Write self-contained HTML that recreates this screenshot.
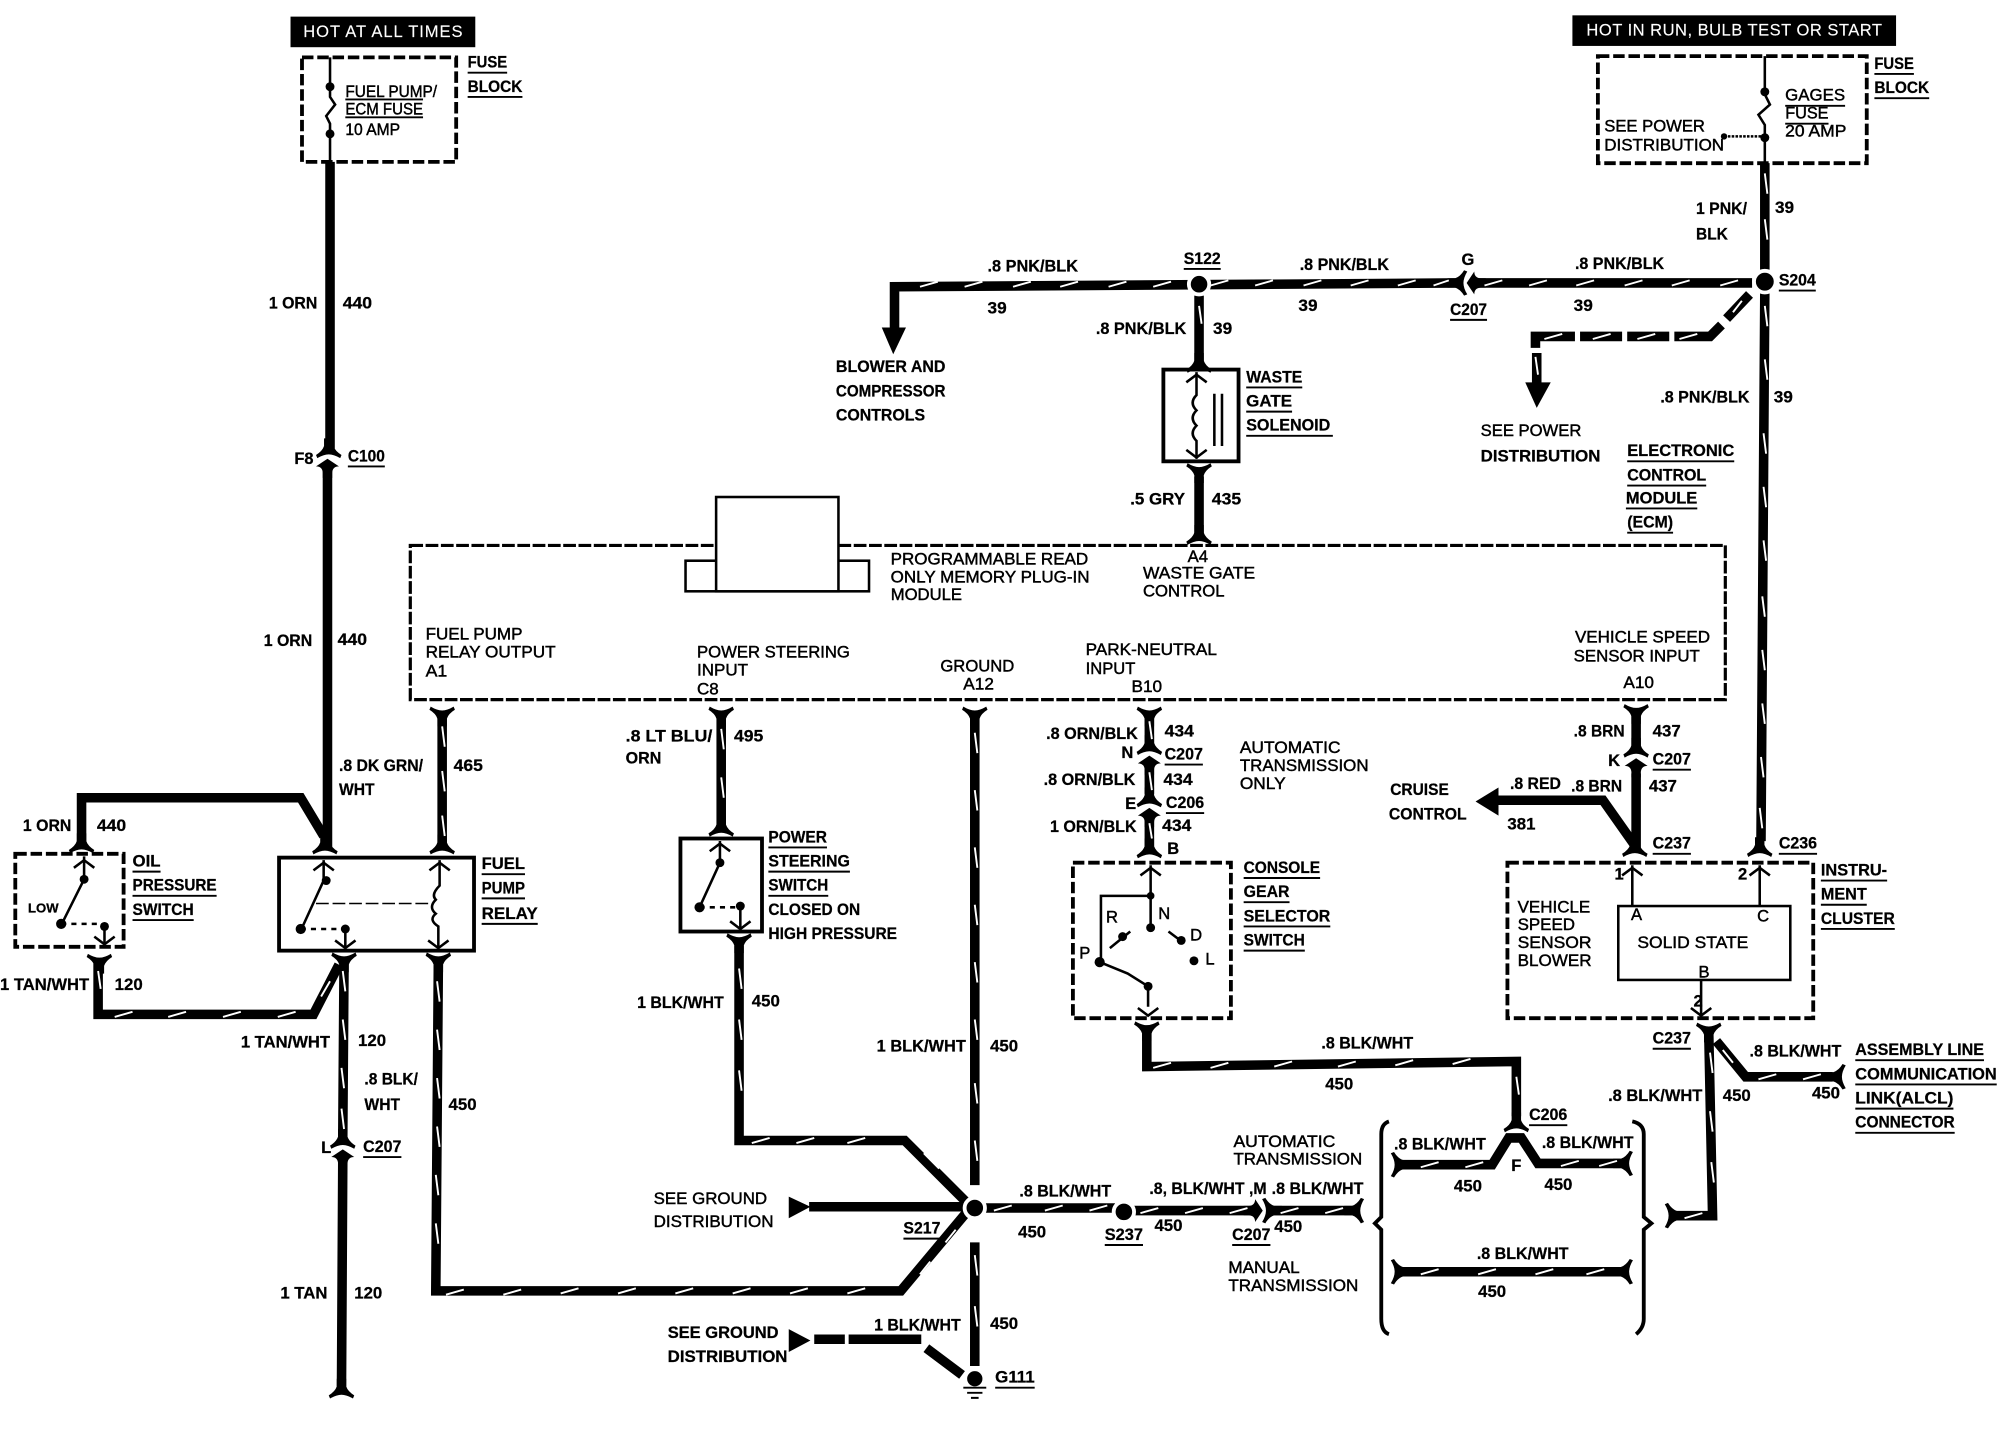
<!DOCTYPE html>
<html><head><meta charset="utf-8"><style>
html,body{margin:0;padding:0;background:#fff}
svg{display:block}
text{font-family:"Liberation Sans",sans-serif;font-weight:700;font-size:13px;fill:#000;stroke:#000;stroke-width:.2px}
.r{font-weight:400;stroke-width:.35px}
.w{fill:#fff;stroke:#fff;stroke-width:.1px;font-weight:400;font-size:13px}
.wire{fill:none;stroke:#000;stroke-linejoin:miter}
</style></head><body>
<svg xmlns="http://www.w3.org/2000/svg" width="1998" height="1440" viewBox="0 0 1568 1130">
<defs>
<path id="fd" d="M-3.7-10H3.7V-4Q5 0 10 3L9 5.5Q4 2.5 0 2.5Q-4 2.5-9 5.5L-10 3Q-5 0-3.7-4Z"/>
<path id="fu" d="M-3.7 10H3.7V4Q5 0 10-3L9-5.5Q4-2.5 0-2.5Q-4-2.5-9-5.5L-10-3Q-5 0-3.7 4Z"/>
<path id="fr" d="M-10-3.7V3.7H-4Q0 5 3 10L5.5 9Q2.5 4 2.5 0Q2.5-4 5.5-9L3-10Q0-5-4-3.7Z"/>
<path id="fl" d="M10-3.7V3.7H4Q0 5-3 10L-5.5 9Q-2.5 4-2.5 0Q-2.5-4-5.5-9L-3-10Q0-5 4-3.7Z"/>
<path id="cb" d="M0-3L9 3Q4 3 3.7 8V12H-3.7V8Q-4 3-9 3Z"/>
<path id="au" d="M-8 6L0 0L8 6" fill="none" stroke="#000" stroke-width="2"/>
<path id="ad" d="M-8-6L0 0L8-6" fill="none" stroke="#000" stroke-width="2"/>
</defs>
<rect width="1568" height="1130" fill="#fff"/>

<!-- headers -->
<rect x="228" y="13" width="145" height="24"/>
<text class="w" x="238" y="29" textLength="125" lengthAdjust="spacing">HOT AT ALL TIMES</text>
<rect x="1234" y="12" width="254" height="24"/>
<text class="w" x="1245" y="28" textLength="232" lengthAdjust="spacing">HOT IN RUN, BULB TEST OR START</text>

<!-- dashed boxes -->
<g fill="none" stroke="#000" stroke-width="3" stroke-dasharray="9 3">
<rect x="237" y="45" width="121" height="82"/>
<rect x="1254" y="44" width="211" height="84"/>
<rect x="322" y="428" width="1032" height="121" stroke-dasharray="10 2" stroke-width="2.5"/>
<rect x="12" y="670" width="85" height="73"/>
<rect x="842" y="677" width="124" height="122"/>
<rect x="1183" y="677" width="240" height="122"/>
</g>

<!-- PROM -->
<g fill="#fff" stroke="#000" stroke-width="2">
<rect x="538" y="440" width="144" height="24"/>
<rect x="562" y="390" width="96" height="74"/>
</g>

<!-- solid boxes -->
<g fill="none" stroke="#000" stroke-width="3">
<rect x="219" y="673" width="153" height="73"/>
<rect x="534" y="658" width="64" height="73"/>
<rect x="913" y="290" width="59" height="72"/>
</g>
<rect x="1270" y="711" width="135" height="58" fill="none" stroke="#000" stroke-width="2"/>

<!-- thick wires -->
<g class="wire" stroke-width="7.5">
<path d="M259 127V352M257 368V665"/>
<path d="M64 662V626H236L254 656"/>
<path d="M347 560V662"/>
<path d="M270 755L269 892M269 912L268 1088"/>
<path d="M266 757L246 796H77V752"/>
<path d="M344 757L342 1013H707L758 952"/>
<path d="M1385 128V216M1385 228L1382 660"/>
<path d="M1375 222L1157 222M1145 222L702 225V258"/>
<path d="M1373 231L1355 250M1351 255L1342 264H1314M1310 264H1277M1273 264H1240M1236 264H1205V273M1206 277V302"/>
<path d="M941 232V284"/>
<path d="M941 374V420"/>
<path d="M566 560V648"/>
<path d="M580 742V895H710L758 943"/>
<path d="M765 562V930"/>
<path d="M635 947H759"/>
<path d="M773 948H875M890 950H986M996 950H1062"/>
<path d="M765 975V1072"/>
<path d="M639 1051H663M666 1051H723M727 1058L755 1079"/>
<path d="M902 562V585M902 603V623M902 643V664"/>
<path d="M900 805V837L1190 833V876"/>
<path d="M1100 914H1171L1184 893H1194L1207 913H1272"/>
<path d="M1100 998H1272"/>
<path d="M1284 560V587M1284 607V668"/>
<path d="M1282 662L1258 628H1172"/>
<path d="M1341 810L1344 954H1310"/>
<path d="M1347 817L1370 845H1438"/>
</g>

<!-- arrowheads -->
<path d="M692 257H711L701 278Z"/>
<path d="M1197 300H1217L1206 320Z"/>
<path d="M1176 618V640L1158 629Z"/>
<path d="M619 939L636 947L619 956Z"/>
<path d="M619 1043L636 1052L619 1061Z"/>

<!-- flares -->
<use href="#fd" x="258" y="354"/><use href="#cb" x="257" y="363"/>
<use href="#fd" x="64" y="664"/><use href="#fd" x="255" y="665"/><use href="#fd" x="347" y="665"/>
<use href="#fu" x="78" y="754"/><use href="#fu" x="270" y="753"/><use href="#fu" x="344" y="753"/>
<use href="#fd" x="269" y="896"/><use href="#cb" x="269" y="905"/>
<use href="#fd" x="268" y="1092"/>
<use href="#fu" x="347" y="560"/><use href="#fu" x="566" y="560"/><use href="#fu" x="765" y="560"/>
<use href="#fd" x="566" y="651"/><use href="#fu" x="580" y="738"/>
<use href="#fu" x="902" y="560"/><use href="#fd" x="902" y="587"/><use href="#cb" x="902" y="596"/>
<use href="#fd" x="902" y="628"/><use href="#cb" x="902" y="637"/><use href="#fd" x="902" y="668"/>
<use href="#fu" x="900" y="807"/>
<use href="#fd" x="941" y="287"/><use href="#fu" x="941" y="369"/><use href="#fd" x="941" y="422"/>
<use href="#fu" x="1284" y="558"/><use href="#fd" x="1284" y="589"/><use href="#cb" x="1284" y="598"/>
<use href="#fd" x="1283" y="667"/><use href="#fd" x="1381" y="667"/><use href="#fu" x="1341" y="808"/>
<use href="#fd" x="1190" y="883"/>
<use href="#fr" x="1065" y="950"/>
<use href="#fl" x="1097" y="914"/><use href="#fr" x="1276" y="913"/>
<use href="#fl" x="1097" y="998"/><use href="#fr" x="1276" y="998"/>
<use href="#fl" x="1312" y="954"/><use href="#fr" x="1443" y="845"/>
<g transform="translate(1151 222) rotate(-90)"><use href="#fd" x="0" y="-5"/><use href="#cb" x="0" y="3"/></g>
<g transform="translate(991 950) rotate(90)"><use href="#fd" x="0" y="-5"/><use href="#cb" x="0" y="3"/></g>

<!-- splices -->
<g stroke="#fff" stroke-width="3">
<circle cx="1385" cy="221" r="8.5"/>
<circle cx="941" cy="223" r="8"/>
<circle cx="765" cy="948" r="8"/>
<circle cx="882" cy="951" r="8"/>
</g>
<circle cx="765" cy="1082" r="6"/>
<path d="M756 1089H774M759 1093H771M762 1097H768" stroke="#000" stroke-width="1.5" fill="none"/>

<!-- white wire stripes -->
<g fill="none" stroke="#fff" stroke-width="1.5">
<path d="M722 225l14-4M757 225l14-4M795 225l14-4M832 225l14-4M870 225l14-4M905 225l14-4M950 224l14-4M985 224l14-4M1023 224l14-4M1060 224l14-4M1097 224l14-4M1125 224l12-4M1165 224l14-4M1200 224l14-4M1237 224l14-4M1275 224l14-4M1312 224l14-4M1350 224l14-4"/>
<path d="M1212 266l14-4M1250 266l14-4M1285 266l14-4M1318 266l14-4M1360 245l7-9M1205 280l2 14"/>
<path d="M1385 136l2 16M1385 172l2 16M1385 240l2 16M1385 282l2 16M1384 340l2 16M1384 382l2 16M1384 424l2 16M1383 468l2 16M1383 510l2 16M1383 552l2 16M1382 594l2 16M1381 634l2 16"/>
<path d="M347 570l2 16M347 605l2 16M347 640l2 16M269 762l2 16M269 800l2 16M268 838l2 16M268 870l2 16"/>
<path d="M343 770l2 16M343 808l2 16M343 846l2 16M343 884l2 16M342 922l2 16M342 960l2 16M350 1016l14-4M395 1016l14-4M440 1015l14-4M485 1015l14-4M530 1015l14-4M575 1015l14-4M620 1015l14-4M665 1015l14-4M722 1000l8-10M742 975l8-10"/>
<path d="M90 798l14-4M132 798l14-4M175 798l14-4M218 798l14-4M77 762l2 14M252 782l7-12"/>
<path d="M566 572l2 16M566 610l2 16M580 760l2 16M580 800l2 16M580 840l2 16M590 897l14-4M625 897l14-4M665 897l14-4M725 905l12 12"/>
<path d="M765 575l2 16M765 620l2 16M765 665l2 16M765 710l2 16M765 755l2 16M765 800l2 16M765 850l2 16M765 895l2 16M765 985l2 16M765 1025l2 16"/>
<path d="M780 950l14-4M820 950l14-4M855 950l14-4M895 952l14-4M930 952l14-4M965 952l14-4M1005 952l14-4M1040 952l14-4"/>
<path d="M902 566l2 14M902 606l2 14M902 646l2 12M941 240l2 14M905 838l14-4M950 838l14-4M1000 837l14-4M1050 837l14-4M1095 836l14-4M1140 835l14-4M1190 845l2 14"/>
<path d="M1115 916l14-4M1150 916l14-4M1225 915l14-4M1255 915l14-4M1115 1000l14-4M1160 1000l14-4M1205 1000l14-4M1245 1000l14-4"/>
<path d="M1342 826l2 16M1342 872l2 16M1343 912l2 16M1322 956l14-4M1380 847l14-4M1415 847l14-4M1352 824l8 10"/>
</g>

<!-- fuses -->
<g fill="none" stroke="#000" stroke-width="2">
<path d="M259 45V76L263 82L256 91L259 97V127"/>
<path d="M1385 44V74L1389 82L1380 90L1385 98V128"/>
<path d="M1385 107H1355" stroke-dasharray="2 1"/>
</g>
<circle cx="259" cy="68" r="3.5"/><circle cx="259" cy="105" r="3.5"/>
<circle cx="1385" cy="72" r="3.5"/><circle cx="1385" cy="108" r="3.5"/><circle cx="1353" cy="107" r="2.5"/>

<!-- inner box details -->
<g fill="none" stroke="#000" stroke-width="2">
<path d="M66 672V690L50 722"/><path d="M48 725H78" stroke-dasharray="4 4"/><path d="M82 740V727"/>
<path d="M254 675V691L238 726"/><path d="M236 729H268" stroke-dasharray="4 4"/><path d="M271 744V729"/>
<path d="M248 709H340" stroke-dasharray="10 3" stroke-width="1.2"/>
<path d="M345 675V695Q338 702 342 706Q336 712 342 717Q336 722 344 727V744"/>
<path d="M565 660V677L549 712"/><path d="M549 712H578" stroke-dasharray="4 4"/><path d="M581 729V711"/>
<path d="M939 292V310Q933 316 939 322Q933 328 939 334Q933 340 939 346V360"/>
<path d="M953 309V350M959 309V350"/>
<path d="M903 679V728M903 703H864V755"/>
<path d="M887 731L871 744M917 731L929 740"/>
<path d="M863 755L885 764L901 774V790"/>
<path d="M1281 679V711M1381 679V711M1335 769V798" />
</g>
<circle cx="66" cy="690" r="3.5"/><circle cx="48" cy="725" r="4"/><circle cx="82" cy="727" r="3.5"/>
<circle cx="256" cy="691" r="3.5"/><circle cx="236" cy="729" r="4"/><circle cx="271" cy="729" r="3.5"/>
<circle cx="565" cy="677" r="3.5"/><circle cx="549" cy="712" r="4"/><circle cx="581" cy="711" r="3.5"/>
<circle cx="903" cy="703" r="3"/><circle cx="903" cy="728" r="3.5"/><circle cx="881" cy="735" r="3.5"/><circle cx="927" cy="738" r="3.5"/><circle cx="937" cy="754" r="3.5"/><circle cx="863" cy="755" r="4"/><circle cx="901" cy="774" r="3.5"/>
<use href="#au" x="66" y="675"/><use href="#ad" x="82" y="741"/>
<use href="#au" x="254" y="677"/><use href="#au" x="345" y="677"/><use href="#ad" x="271" y="744"/><use href="#ad" x="344" y="744"/>
<use href="#au" x="565" y="662"/><use href="#ad" x="581" y="729"/>
<use href="#au" x="939" y="294"/><use href="#ad" x="939" y="359"/>
<use href="#au" x="903" y="681"/><use href="#ad" x="901" y="797"/>
<use href="#au" x="1281" y="681"/><use href="#au" x="1381" y="681"/><use href="#ad" x="1335" y="797"/>

<!-- braces -->
<g fill="none" stroke="#000" stroke-width="3">
<path d="M1090 880Q1084 882 1084 890V955L1079 960L1084 965V1035Q1084 1045 1090 1047"/>
<path d="M1281 880Q1290 882 1290 890V955L1296 960L1290 965V1035Q1290 1042 1284 1047"/>
</g>

<!-- underlines -->
<path fill="none" stroke="#000" stroke-width="1.5" d="M367 57h31M367 76h43M271 78h61M271 92h61M1471 58h31M1471 77h43M1401 83h47M1401 97h34M273 366h29M285 908h30M104 684h22M104 703h66M104 722h48M378 686h34M378 705h34M378 725h44M603 665h46M603 684h64M603 703h47M978 304h44M978 323h36M978 342h68M929 211h29M1396 228h29M1138 251h29M1277 362h84M1277 381h62M1276 399h56M1277 418h36M914 600h30M915 638h30M976 689h60M976 708h36M976 727h68M976 746h48M1297 604h30M1297 670h30M1396 670h30M1429 691h52M1429 710h36M1429 729h58M1297 823h30M1456 832h101M1456 851h111M1456 870h77M1456 889h78M1200 883h30M709 972h29M867 977h30M967 977h30M781 1089h31"/>

<!-- labels -->
<g>
<text x="367" y="53" textLength="31" lengthAdjust="spacingAndGlyphs">FUSE</text>
<text x="367" y="72" textLength="43" lengthAdjust="spacingAndGlyphs">BLOCK</text>
<text class="r" x="271" y="76" textLength="72" lengthAdjust="spacingAndGlyphs">FUEL PUMP/</text>
<text class="r" x="271" y="90" textLength="61" lengthAdjust="spacingAndGlyphs">ECM FUSE</text>
<text class="r" x="271" y="106" textLength="43" lengthAdjust="spacingAndGlyphs">10 AMP</text>
<text x="211" y="242" textLength="38" lengthAdjust="spacingAndGlyphs">1 ORN</text>
<text x="269" y="242" textLength="23" lengthAdjust="spacingAndGlyphs">440</text>
<text x="231" y="364" textLength="15" lengthAdjust="spacingAndGlyphs">F8</text>
<text x="273" y="362" textLength="29" lengthAdjust="spacingAndGlyphs">C100</text>
<text x="207" y="507" textLength="38" lengthAdjust="spacingAndGlyphs">1 ORN</text>
<text x="265" y="506" textLength="23" lengthAdjust="spacingAndGlyphs">440</text>
<text x="266" y="605" textLength="66" lengthAdjust="spacingAndGlyphs">.8 DK GRN/</text>
<text x="266" y="624" textLength="28" lengthAdjust="spacingAndGlyphs">WHT</text>
<text x="356" y="605" textLength="23" lengthAdjust="spacingAndGlyphs">465</text>
<text x="18" y="652" textLength="38" lengthAdjust="spacingAndGlyphs">1 ORN</text>
<text x="76" y="652" textLength="23" lengthAdjust="spacingAndGlyphs">440</text>
<text x="104" y="680" textLength="22" lengthAdjust="spacingAndGlyphs">OIL</text>
<text x="104" y="699" textLength="66" lengthAdjust="spacingAndGlyphs">PRESSURE</text>
<text x="104" y="718" textLength="48" lengthAdjust="spacingAndGlyphs">SWITCH</text>
<text x="22" y="716" textLength="24" lengthAdjust="spacingAndGlyphs" style="font-size:10px">LOW</text>
<text x="378" y="682" textLength="34" lengthAdjust="spacingAndGlyphs">FUEL</text>
<text x="378" y="701" textLength="34" lengthAdjust="spacingAndGlyphs">PUMP</text>
<text x="378" y="721" textLength="44" lengthAdjust="spacingAndGlyphs">RELAY</text>
<text x="0" y="777" textLength="70" lengthAdjust="spacingAndGlyphs">1 TAN/WHT</text>
<text x="90" y="777" textLength="22" lengthAdjust="spacingAndGlyphs">120</text>
<text x="189" y="822" textLength="70" lengthAdjust="spacingAndGlyphs">1 TAN/WHT</text>
<text x="281" y="821" textLength="22" lengthAdjust="spacingAndGlyphs">120</text>
<text x="286" y="851" textLength="42" lengthAdjust="spacingAndGlyphs">.8 BLK/</text>
<text x="286" y="871" textLength="28" lengthAdjust="spacingAndGlyphs">WHT</text>
<text x="352" y="871" textLength="22" lengthAdjust="spacingAndGlyphs">450</text>
<text x="252" y="905">L</text>
<text x="285" y="904" textLength="30" lengthAdjust="spacingAndGlyphs">C207</text>
<text x="220" y="1019" textLength="37" lengthAdjust="spacingAndGlyphs">1 TAN</text>
<text x="278" y="1019" textLength="22" lengthAdjust="spacingAndGlyphs">120</text>

<text class="r" x="699" y="443" textLength="155" lengthAdjust="spacingAndGlyphs">PROGRAMMABLE READ</text>
<text class="r" x="699" y="457" textLength="156" lengthAdjust="spacingAndGlyphs">ONLY MEMORY PLUG-IN</text>
<text class="r" x="699" y="471" textLength="56" lengthAdjust="spacingAndGlyphs">MODULE</text>
<text class="r" x="932" y="441" textLength="16" lengthAdjust="spacingAndGlyphs">A4</text>
<text class="r" x="897" y="454" textLength="88" lengthAdjust="spacingAndGlyphs">WASTE GATE</text>
<text class="r" x="897" y="468" textLength="64" lengthAdjust="spacingAndGlyphs">CONTROL</text>
<text class="r" x="334" y="502" textLength="76" lengthAdjust="spacingAndGlyphs">FUEL PUMP</text>
<text class="r" x="334" y="516" textLength="102" lengthAdjust="spacingAndGlyphs">RELAY OUTPUT</text>
<text class="r" x="334" y="531" textLength="17" lengthAdjust="spacingAndGlyphs">A1</text>
<text class="r" x="547" y="516" textLength="120" lengthAdjust="spacingAndGlyphs">POWER STEERING</text>
<text class="r" x="547" y="530" textLength="40" lengthAdjust="spacingAndGlyphs">INPUT</text>
<text class="r" x="547" y="545" textLength="17" lengthAdjust="spacingAndGlyphs">C8</text>
<text class="r" x="738" y="527" textLength="58" lengthAdjust="spacingAndGlyphs">GROUND</text>
<text class="r" x="756" y="541" textLength="24" lengthAdjust="spacingAndGlyphs">A12</text>
<text class="r" x="852" y="514" textLength="103" lengthAdjust="spacingAndGlyphs">PARK-NEUTRAL</text>
<text class="r" x="852" y="529" textLength="39" lengthAdjust="spacingAndGlyphs">INPUT</text>
<text class="r" x="888" y="543" textLength="24" lengthAdjust="spacingAndGlyphs">B10</text>
<text class="r" x="1236" y="504" textLength="106" lengthAdjust="spacingAndGlyphs">VEHICLE SPEED</text>
<text class="r" x="1235" y="519" textLength="99" lengthAdjust="spacingAndGlyphs">SENSOR INPUT</text>
<text class="r" x="1274" y="540" textLength="24" lengthAdjust="spacingAndGlyphs">A10</text>

<text class="r" x="1259" y="103" textLength="79" lengthAdjust="spacingAndGlyphs">SEE POWER</text>
<text class="r" x="1259" y="118" textLength="94" lengthAdjust="spacingAndGlyphs">DISTRIBUTION</text>
<text class="r" x="1401" y="79" textLength="47" lengthAdjust="spacingAndGlyphs">GAGES</text>
<text class="r" x="1401" y="93" textLength="34" lengthAdjust="spacingAndGlyphs">FUSE</text>
<text class="r" x="1401" y="107" textLength="48" lengthAdjust="spacingAndGlyphs">20 AMP</text>
<text x="1471" y="54" textLength="31" lengthAdjust="spacingAndGlyphs">FUSE</text>
<text x="1471" y="73" textLength="43" lengthAdjust="spacingAndGlyphs">BLOCK</text>
<text x="1331" y="168" textLength="40" lengthAdjust="spacingAndGlyphs">1 PNK/</text>
<text x="1331" y="188" textLength="25" lengthAdjust="spacingAndGlyphs">BLK</text>
<text x="1393" y="167" textLength="15" lengthAdjust="spacingAndGlyphs">39</text>
<text x="1396" y="224" textLength="29" lengthAdjust="spacingAndGlyphs">S204</text>
<text x="775" y="213" textLength="71" lengthAdjust="spacingAndGlyphs">.8 PNK/BLK</text>
<text x="775" y="246" textLength="15" lengthAdjust="spacingAndGlyphs">39</text>
<text x="929" y="207" textLength="29" lengthAdjust="spacingAndGlyphs">S122</text>
<text x="1020" y="212" textLength="70" lengthAdjust="spacingAndGlyphs">.8 PNK/BLK</text>
<text x="1019" y="244" textLength="15" lengthAdjust="spacingAndGlyphs">39</text>
<text x="1147" y="208">G</text>
<text x="1236" y="211" textLength="70" lengthAdjust="spacingAndGlyphs">.8 PNK/BLK</text>
<text x="1235" y="244" textLength="15" lengthAdjust="spacingAndGlyphs">39</text>
<text x="1138" y="247" textLength="29" lengthAdjust="spacingAndGlyphs">C207</text>
<text x="860" y="262" textLength="71" lengthAdjust="spacingAndGlyphs">.8 PNK/BLK</text>
<text x="952" y="262" textLength="15" lengthAdjust="spacingAndGlyphs">39</text>
<text x="978" y="300" textLength="44" lengthAdjust="spacingAndGlyphs">WASTE</text>
<text x="978" y="319" textLength="36" lengthAdjust="spacingAndGlyphs">GATE</text>
<text x="978" y="338" textLength="66" lengthAdjust="spacingAndGlyphs">SOLENOID</text>
<text x="887" y="396" textLength="43" lengthAdjust="spacingAndGlyphs">.5 GRY</text>
<text x="951" y="396" textLength="23" lengthAdjust="spacingAndGlyphs">435</text>
<text x="656" y="292" textLength="86" lengthAdjust="spacingAndGlyphs">BLOWER AND</text>
<text x="656" y="311" textLength="86" lengthAdjust="spacingAndGlyphs">COMPRESSOR</text>
<text x="656" y="330" textLength="70" lengthAdjust="spacingAndGlyphs">CONTROLS</text>
<text class="r" x="1162" y="342" textLength="79" lengthAdjust="spacingAndGlyphs">SEE POWER</text>
<text x="1162" y="362" textLength="94" lengthAdjust="spacingAndGlyphs">DISTRIBUTION</text>
<text x="1277" y="358" textLength="84" lengthAdjust="spacingAndGlyphs">ELECTRONIC</text>
<text x="1277" y="377" textLength="62" lengthAdjust="spacingAndGlyphs">CONTROL</text>
<text x="1276" y="395" textLength="56" lengthAdjust="spacingAndGlyphs">MODULE</text>
<text x="1277" y="414" textLength="36" lengthAdjust="spacingAndGlyphs">(ECM)</text>
<text x="1303" y="316" textLength="70" lengthAdjust="spacingAndGlyphs">.8 PNK/BLK</text>
<text x="1392" y="316" textLength="15" lengthAdjust="spacingAndGlyphs">39</text>
<text x="1396" y="666" textLength="30" lengthAdjust="spacingAndGlyphs">C236</text>

<text x="1235" y="578" textLength="40" lengthAdjust="spacingAndGlyphs">.8 BRN</text>
<text x="1297" y="578" textLength="22" lengthAdjust="spacingAndGlyphs">437</text>
<text x="1262" y="601">K</text>
<text x="1297" y="600" textLength="30" lengthAdjust="spacingAndGlyphs">C207</text>
<text x="1185" y="619" textLength="40" lengthAdjust="spacingAndGlyphs">.8 RED</text>
<text x="1233" y="621" textLength="40" lengthAdjust="spacingAndGlyphs">.8 BRN</text>
<text x="1294" y="621" textLength="22" lengthAdjust="spacingAndGlyphs">437</text>
<text x="1091" y="624" textLength="46" lengthAdjust="spacingAndGlyphs">CRUISE</text>
<text x="1090" y="643" textLength="61" lengthAdjust="spacingAndGlyphs">CONTROL</text>
<text x="1183" y="651" textLength="22" lengthAdjust="spacingAndGlyphs">381</text>
<text x="1297" y="666" textLength="30" lengthAdjust="spacingAndGlyphs">C237</text>
<text x="1429" y="687" textLength="52" lengthAdjust="spacingAndGlyphs">INSTRU-</text>
<text x="1429" y="706" textLength="36" lengthAdjust="spacingAndGlyphs">MENT</text>
<text x="1429" y="725" textLength="58" lengthAdjust="spacingAndGlyphs">CLUSTER</text>
<text x="1267" y="690">1</text>
<text x="1364" y="690">2</text>
<text class="r" x="1191" y="716" textLength="57" lengthAdjust="spacingAndGlyphs">VEHICLE</text>
<text class="r" x="1191" y="730" textLength="45" lengthAdjust="spacingAndGlyphs">SPEED</text>
<text class="r" x="1191" y="744" textLength="58" lengthAdjust="spacingAndGlyphs">SENSOR</text>
<text class="r" x="1191" y="758" textLength="58" lengthAdjust="spacingAndGlyphs">BLOWER</text>
<text class="r" x="1280" y="722">A</text>
<text class="r" x="1379" y="723">C</text>
<text class="r" x="1285" y="744" textLength="87" lengthAdjust="spacingAndGlyphs">SOLID STATE</text>
<text class="r" x="1333" y="767">B</text>
<text x="1329" y="790">2</text>
<text x="1297" y="819" textLength="30" lengthAdjust="spacingAndGlyphs">C237</text>
<text x="1373" y="829" textLength="72" lengthAdjust="spacingAndGlyphs">.8 BLK/WHT</text>
<text x="1352" y="864" textLength="22" lengthAdjust="spacingAndGlyphs">450</text>
<text x="1422" y="862" textLength="22" lengthAdjust="spacingAndGlyphs">450</text>
<text x="1262" y="864" textLength="74" lengthAdjust="spacingAndGlyphs">.8 BLK/WHT</text>
<text x="1456" y="828" textLength="101" lengthAdjust="spacingAndGlyphs">ASSEMBLY LINE</text>
<text x="1456" y="847" textLength="111" lengthAdjust="spacingAndGlyphs">COMMUNICATION</text>
<text x="1456" y="866" textLength="77" lengthAdjust="spacingAndGlyphs">LINK(ALCL)</text>
<text x="1456" y="885" textLength="78" lengthAdjust="spacingAndGlyphs">CONNECTOR</text>

<text x="1037" y="823" textLength="72" lengthAdjust="spacingAndGlyphs">.8 BLK/WHT</text>
<text x="1040" y="855" textLength="22" lengthAdjust="spacingAndGlyphs">450</text>
<text x="1200" y="879" textLength="30" lengthAdjust="spacingAndGlyphs">C206</text>
<text x="1186" y="919">F</text>
<text x="1094" y="902" textLength="72" lengthAdjust="spacingAndGlyphs">.8 BLK/WHT</text>
<text x="1210" y="901" textLength="72" lengthAdjust="spacingAndGlyphs">.8 BLK/WHT</text>
<text x="1141" y="935" textLength="22" lengthAdjust="spacingAndGlyphs">450</text>
<text x="1212" y="934" textLength="22" lengthAdjust="spacingAndGlyphs">450</text>
<text x="1159" y="988" textLength="72" lengthAdjust="spacingAndGlyphs">.8 BLK/WHT</text>
<text x="1160" y="1018" textLength="22" lengthAdjust="spacingAndGlyphs">450</text>
<text class="r" x="968" y="900" textLength="80" lengthAdjust="spacingAndGlyphs">AUTOMATIC</text>
<text class="r" x="968" y="914" textLength="101" lengthAdjust="spacingAndGlyphs">TRANSMISSION</text>
<text class="r" x="964" y="999" textLength="56" lengthAdjust="spacingAndGlyphs">MANUAL</text>
<text class="r" x="964" y="1013" textLength="102" lengthAdjust="spacingAndGlyphs">TRANSMISSION</text>
<text class="r" x="973" y="591" textLength="79" lengthAdjust="spacingAndGlyphs">AUTOMATIC</text>
<text class="r" x="973" y="605" textLength="101" lengthAdjust="spacingAndGlyphs">TRANSMISSION</text>
<text class="r" x="973" y="619" textLength="36" lengthAdjust="spacingAndGlyphs">ONLY</text>

<text x="688" y="825" textLength="70" lengthAdjust="spacingAndGlyphs">1 BLK/WHT</text>
<text x="777" y="825" textLength="22" lengthAdjust="spacingAndGlyphs">450</text>
<text class="r" x="513" y="945" textLength="89" lengthAdjust="spacingAndGlyphs">SEE GROUND</text>
<text class="r" x="513" y="963" textLength="94" lengthAdjust="spacingAndGlyphs">DISTRIBUTION</text>
<text x="709" y="968" textLength="29" lengthAdjust="spacingAndGlyphs">S217</text>
<text x="500" y="791" textLength="68" lengthAdjust="spacingAndGlyphs">1 BLK/WHT</text>
<text x="590" y="790" textLength="22" lengthAdjust="spacingAndGlyphs">450</text>
<text x="686" y="1044" textLength="68" lengthAdjust="spacingAndGlyphs">1 BLK/WHT</text>
<text x="777" y="1043" textLength="22" lengthAdjust="spacingAndGlyphs">450</text>
<text x="524" y="1050" textLength="87" lengthAdjust="spacingAndGlyphs">SEE GROUND</text>
<text x="524" y="1069" textLength="94" lengthAdjust="spacingAndGlyphs">DISTRIBUTION</text>
<text x="781" y="1085" textLength="31" lengthAdjust="spacingAndGlyphs">G111</text>
<text x="800" y="939" textLength="72" lengthAdjust="spacingAndGlyphs">.8 BLK/WHT</text>
<text x="799" y="971" textLength="22" lengthAdjust="spacingAndGlyphs">450</text>
<text x="867" y="973" textLength="30" lengthAdjust="spacingAndGlyphs">S237</text>
<text x="902" y="937" textLength="92" lengthAdjust="spacingAndGlyphs">.8, BLK/WHT ,M</text>
<text x="998" y="937" textLength="72" lengthAdjust="spacingAndGlyphs">.8 BLK/WHT</text>
<text x="906" y="966" textLength="22" lengthAdjust="spacingAndGlyphs">450</text>
<text x="967" y="973" textLength="30" lengthAdjust="spacingAndGlyphs">C207</text>
<text x="1000" y="967" textLength="22" lengthAdjust="spacingAndGlyphs">450</text>

<text x="491" y="582" textLength="68" lengthAdjust="spacingAndGlyphs">.8 LT BLU/</text>
<text x="491" y="599" textLength="28" lengthAdjust="spacingAndGlyphs">ORN</text>
<text x="576" y="582" textLength="23" lengthAdjust="spacingAndGlyphs">495</text>
<text x="603" y="661" textLength="46" lengthAdjust="spacingAndGlyphs">POWER</text>
<text x="603" y="680" textLength="64" lengthAdjust="spacingAndGlyphs">STEERING</text>
<text x="603" y="699" textLength="47" lengthAdjust="spacingAndGlyphs">SWITCH</text>
<text x="603" y="718" textLength="72" lengthAdjust="spacingAndGlyphs">CLOSED ON</text>
<text x="603" y="737" textLength="101" lengthAdjust="spacingAndGlyphs">HIGH PRESSURE</text>

<text x="821" y="580" textLength="72" lengthAdjust="spacingAndGlyphs">.8 ORN/BLK</text>
<text x="914" y="578" textLength="23" lengthAdjust="spacingAndGlyphs">434</text>
<text x="880" y="595">N</text>
<text x="914" y="596" textLength="30" lengthAdjust="spacingAndGlyphs">C207</text>
<text x="819" y="616" textLength="72" lengthAdjust="spacingAndGlyphs">.8 ORN/BLK</text>
<text x="913" y="616" textLength="23" lengthAdjust="spacingAndGlyphs">434</text>
<text x="883" y="635">E</text>
<text x="915" y="634" textLength="30" lengthAdjust="spacingAndGlyphs">C206</text>
<text x="824" y="653" textLength="68" lengthAdjust="spacingAndGlyphs">1 ORN/BLK</text>
<text x="912" y="652" textLength="23" lengthAdjust="spacingAndGlyphs">434</text>
<text x="916" y="670">B</text>
<text class="r" x="868" y="724">R</text>
<text class="r" x="909" y="721">N</text>
<text class="r" x="934" y="738">D</text>
<text class="r" x="946" y="757">L</text>
<text class="r" x="847" y="752">P</text>
<text x="976" y="685" textLength="60" lengthAdjust="spacingAndGlyphs">CONSOLE</text>
<text x="976" y="704" textLength="36" lengthAdjust="spacingAndGlyphs">GEAR</text>
<text x="976" y="723" textLength="68" lengthAdjust="spacingAndGlyphs">SELECTOR</text>
<text x="976" y="742" textLength="48" lengthAdjust="spacingAndGlyphs">SWITCH</text>
</g>
</svg>
</body></html>
